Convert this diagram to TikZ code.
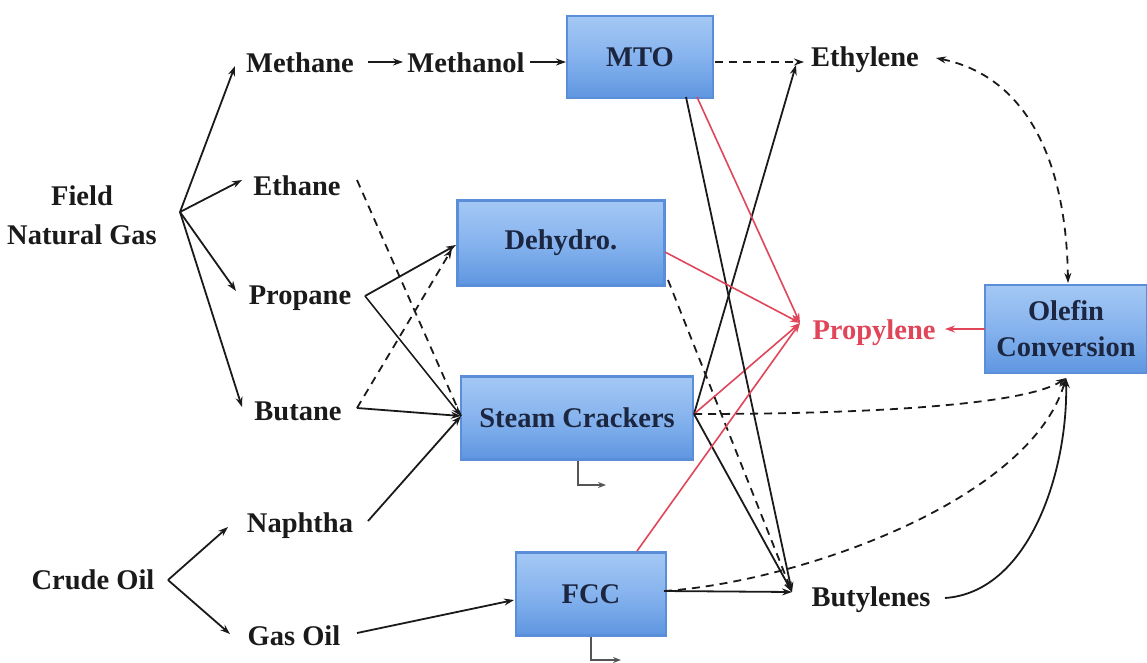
\documentclass[tikz,border=0pt]{standalone}
\usepackage{fontspec}
\setmainfont{LiberationSerif}[Extension=.ttf, UprightFont=*-Regular, BoldFont=*-Bold, ItalicFont=*-Italic, BoldItalicFont=*-BoldItalic]
\usetikzlibrary{arrows.meta,calc}
\definecolor{ink}{HTML}{1A1A1A}
\definecolor{redc}{HTML}{E0455A}
\definecolor{boxtop}{HTML}{A4C8F4}
\definecolor{boxmid}{HTML}{86B3EE}
\definecolor{boxbot}{HTML}{5E96E0}
\definecolor{boxedge}{HTML}{5A8ED8}
\definecolor{boxtxt}{HTML}{1C2640}
\definecolor{graylin}{HTML}{555555}
\begin{document}
\begin{tikzpicture}[x=1pt,y=-1pt,
  lbl/.style={font=\fontsize{28.5}{39}\selectfont\bfseries, text=ink, inner sep=0pt, align=center},
  box/.style={draw=boxedge, line width=2.5pt, top color=boxtop, bottom color=boxbot, middle color=boxmid,
    font=\fontsize{28.5}{36}\selectfont\bfseries, text=boxtxt, inner sep=0pt, align=center},
  arr/.style={-{Stealth[length=10pt,width=7pt]}, line width=1.8pt, draw=ink},
  dsh/.style={arr, dash pattern=on 8pt off 6pt},
  rarr/.style={arr, draw=redc, line width=1.6pt},
  larr/.style={-{Stealth[length=8pt,width=6pt]}, line width=2pt, draw=graylin}
]
\useasboundingbox (0,0) rectangle (1147,662);

% boxes
\node[box, minimum width=146pt, minimum height=82pt] (mto) at (640,57) {MTO};
\node[box, minimum width=207pt, minimum height=85pt] (deh) at (561,243) {Dehydro.};
\node[box, minimum width=232pt, minimum height=83pt] (sc) at (577,418) {Steam Crackers};
\node[box, minimum width=150pt, minimum height=83pt] (fcc) at (591,594) {FCC};
\node[box, minimum width=162pt, minimum height=88pt] (olc) at (1066,329) {Olefin\\Conversion};

% labels
\node[lbl] (fng) at (82,215) {Field\\Natural Gas};
\node[lbl] (methane) at (300,63) {Methane};
\node[lbl] (methanol) at (466,63) {Methanol};
\node[lbl] (ethylene) at (865,60) {Ethylene};
\node[lbl] (ethane) at (297,186) {Ethane};
\node[lbl] (propane) at (300,298) {Propane};
\node[lbl] (butane) at (298,411) {Butane};
\node[lbl] (naphtha) at (300,526) {Naphtha};
\node[lbl] (crude) at (93,580) {Crude Oil};
\node[lbl] (gasoil) at (294,636) {Gas Oil};
\node[lbl, text=redc] (propylene) at (874,333) {Propylene};
\node[lbl] (butylenes) at (871,600) {Butylenes};

% ports
\coordinate (fork1) at (180,212);
\coordinate (tMethane) at (235,66);
\coordinate (tEthane) at (242,180);
\coordinate (tPropane) at (236,291);
\coordinate (tButane) at (242,407);
\coordinate (fork2) at (168,580);
\coordinate (tNaphtha) at (228,527);
\coordinate (tGasOil) at (230,634);
\coordinate (ethaneOut) at (357,180);
\coordinate (propOut) at (365,296);
\coordinate (butOut) at (357,408);
\coordinate (naphOut) at (368,521);
\coordinate (scIn) at (461,416);
\coordinate (dehIn) at (456,245);
\coordinate (dehIn2) at (452,249);
\coordinate (gasOut) at (357,633);
\coordinate (fccIn) at (514,600);
\coordinate (scOut) at (694,414);
\coordinate (ethTip) at (796,65);
\coordinate (propTip) at (800,323);
\coordinate (butTip) at (792,592);
\coordinate (mtoOutB) at (686,97);
\coordinate (mtoOutR) at (697,97);
\coordinate (dehOutR) at (665,252);
\coordinate (dehOutD) at (668,280);
\coordinate (fccTop) at (637,551);
\coordinate (fccR) at (664,591);
\coordinate (olcBot) at (1066,378);
\coordinate (olcTop) at (1068,283);
\coordinate (olcL) at (985,329);
\coordinate (propR) at (945,329);
\coordinate (ethR) at (936,58);
\coordinate (butR) at (945,598);
\coordinate (metOut) at (368,62);
\coordinate (metIn) at (403,62);
\coordinate (molOut) at (530,62);
\coordinate (mtoIn) at (566,62);
\coordinate (mtoOut) at (715,62);
\coordinate (ethIn) at (804,62);
\coordinate (scDown) at (578,461);
\coordinate (scSide) at (606,485);
\coordinate (fccDown) at (591,637);
\coordinate (fccSide) at (621,660);

% natural gas fork
\draw[arr] (fork1) -- (tMethane);
\draw[arr] (fork1) -- (tEthane);
\draw[arr] (fork1) -- (tPropane);
\draw[arr] (fork1) -- (tButane);
% crude oil fork
\draw[arr] (fork2) -- (tNaphtha);
\draw[arr] (fork2) -- (tGasOil);

% methane chain
\draw[arr] (metOut) -- (metIn);
\draw[arr] (molOut) -- (mtoIn);
\draw[dsh] (mtoOut) -- (ethIn);

% feeds
\draw[dsh, -] (ethaneOut) -- (scIn);
\draw[arr] (propOut) -- (dehIn);
\draw[arr, line width=1.5pt] (propOut) -- (scIn);
\draw[dsh] (butOut) -- (dehIn2);
\draw[arr] (butOut) -- (scIn);
\draw[arr] (naphOut) -- (scIn);
\draw[arr] (gasOut) -- (fccIn);

% products
\draw[arr] (scOut) -- (ethTip);
\draw[rarr] (scOut) -- (propTip);
\draw[arr] (scOut) -- (butTip);
\draw[dsh] (scOut) .. controls (900,414) and (1030,402) .. (olcBot);
\draw[arr] (mtoOutB) -- (butTip);
\draw[rarr] (mtoOutR) -- (propTip);
\draw[rarr] (dehOutR) -- (propTip);
\draw[dsh] (dehOutD) -- (butTip);
\draw[rarr] (fccTop) -- (propTip);
\draw[arr] (fccR) -- (butTip);
\draw[dsh] (fccR) .. controls (800,582) and (1030,500) .. (olcBot);
\draw[rarr] (olcL) -- (propR);
\draw[dsh, {Stealth[length=10pt,width=7pt]}-{Stealth[length=10pt,width=7pt]}] (ethR) .. controls (1020,75) and (1066,150) .. (olcTop);
\draw[arr] (butR) .. controls (1030,592) and (1068,470) .. (olcBot);

% side outputs
\draw[larr] (scDown) |- (scSide);
\draw[larr] (fccDown) |- (fccSide);
\end{tikzpicture}
\end{document}
